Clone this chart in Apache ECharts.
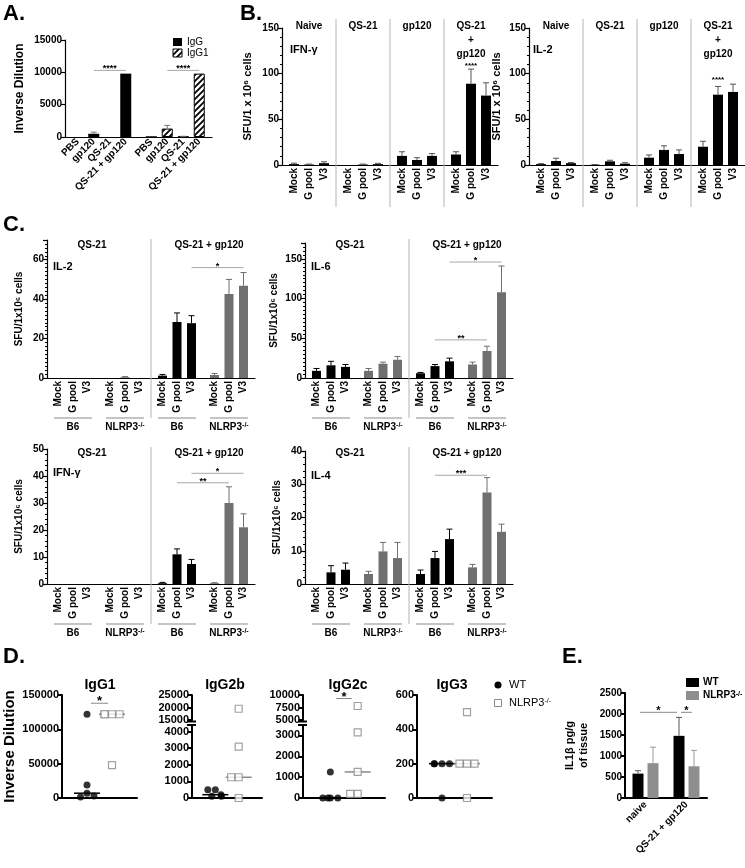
<!DOCTYPE html>
<html><head><meta charset="utf-8">
<script src="https://cdn.jsdelivr.net/npm/echarts@6.0.0/dist/echarts.min.js"></script>
<style>html,body{margin:0;padding:0;background:#fff}#c{width:745px;height:868px}</style>
</head><body><div id="c"></div>
<script>
// ================= DATA =================
// Panel A
const aGroups = ['IgG', 'IgG1'];
const aTreatments = ['PBS', 'gp120', 'QS-21', 'QS-21 + gp120'];
const aIgG = [0, 500, 0, 9800];
const aIgGSd = [0, 250, 0, 0];
const aIgG1 = [0, 1300, 50, 9800];
const aIgG1Sd = [0, 500, 60, 0];
const aSig = [[0, 1, 0, 3, 10300, '****'], [1, 1, 1, 3, 10300, '****']];

// Panel B
const bGroups = ['Naive', 'QS-21', 'gp120', 'QS-21\n+\ngp120'];
const stims = ['Mock', 'G pool', 'V3'];
const bIfn = [[1, 0.5, 2], [0, 0.5, 1], [10, 5.5, 10], [11.5, 89, 76]];
const bIfnSd = [[1, 0.5, 1.5], [0, 0.5, 0.8], [4.5, 2.5, 2.5], [3, 16, 14]];
const bIl2 = [[1, 4.4, 2], [0.3, 4, 1.5], [8, 16.5, 12], [20, 77, 80]];
const bIl2Sd = [[0.5, 3, 0.7], [0.2, 1.2, 1], [3, 4.5, 4.5], [6, 9, 8.5]];
const bIfnSig = [[3, 1, 3, 1, 108, '****']];
const bIl2Sig = [[3, 1, 3, 1, 92, '****']];

// Panel C
const cGroups = ['B6', 'NLRP3-/-', 'B6', 'NLRP3-/-'];
const cTreat = ['QS-21', 'QS-21 + gp120'];
const cIl2 = [[0, 0, 0], [0, 0.4, 0], [1.2, 28.4, 27.8], [1.5, 42.6, 46.8]];
const cIl2Sd = [[0, 0, 0], [0, 0.3, 0], [0.6, 4.6, 3.8], [0.8, 7.4, 6.7]];
const cIl6 = [[9, 16, 14], [9, 18, 23], [6, 15, 21], [17, 34, 108]];
const cIl6Sd = [[3, 5, 3], [3, 2, 4], [1, 2, 4], [3, 6, 33]];
const cIfn = [[0, 0, 0], [0, 0, 0], [0.3, 11, 7.4], [0.3, 30, 21]];
const cIfnSd = [[0, 0, 0], [0, 0, 0], [0.3, 2, 1.7], [0.2, 6, 5]];
const cIl4 = [[0, 3.5, 4.3], [3, 9.8, 7.8], [3, 7.8, 13.5], [5, 27.5, 15.7]];
const cIl4Sd = [[0, 2, 2], [0.8, 2.7, 4.7], [1.2, 2, 3], [0.9, 4.5, 2.3]];
const cIl2Sig = [[2, 2, 3, 2, 56, '*']];
const cIl6Sig = [[2, 2, 3, 2, 146, '*'], [2, 1, 3, 1, 48, '**']];
const cIfnSig = [[2, 2, 3, 2, 41, '*'], [2, 1, 3, 1, 37.5, '**']];
const cIl4Sig = [[2, 1, 3, 1, 32.7, '***']];

// Panel D
const dTitles = ['IgG1', 'IgG2b', 'IgG2c', 'IgG3'];
const dIgG1WT = [122000, 19000, 7000, 1500, 3000];
const dIgG1KO = [122000, 122000, 122000, 122000, 48000];
const dIgG2bWT = [500, 100, 200, 100, 500];
const dIgG2bKO = [19500, 3100, 1250, 1250, 0];
const dIgG2cWT = [1250, 0, 0, 0, 0];
const dIgG2cKO = [7800, 3150, 1250, 200, 200];
const dIgG3WT = [200, 200, 200, 200, 0];
const dIgG3KO = [500, 200, 200, 200, 0];

// Panel E
const eGroups = ['naive', 'QS-21 + gp120'];
const eWT = [580, 1480];
const eWTSd = [70, 440];
const eKO = [830, 755];
const eKOSd = [380, 380];
const eSig = [[0, 0, 1, 0, 2040, '*'], [1, 0, 1, 1, 2040, '*']];

// ================= STYLE / HELPERS =================
const FONT = '"Liberation Sans", Arial, Helvetica, sans-serif';
const BLK = '#000000', KO_C = '#6f6f6f', KO_E = '#8e8e8e', SEP = '#b4b4b4', SIGC = '#a8a8a8';

function hatchCanvas() {
  const c = document.createElement('canvas'); c.width = 6; c.height = 6;
  const x = c.getContext('2d');
  x.fillStyle = '#fff'; x.fillRect(0, 0, 6, 6);
  x.strokeStyle = '#000'; x.lineWidth = 1.8;
  x.beginPath();
  x.moveTo(0, 6); x.lineTo(6, 0);
  x.moveTo(-3, 3); x.lineTo(3, -3);
  x.moveTo(3, 9); x.lineTo(9, 3);
  x.stroke();
  return c;
}
const HATCH = { image: hatchCanvas(), repeat: 'repeat' };

const grids = [], xAxes = [], yAxes = [], series = [];
function addGrid(l, t, w, h, xa, ya) {
  const i = grids.length;
  grids.push({ left: l, top: t, width: w, height: h, outerBoundsMode: 'none', containLabel: false });
  xAxes.push(Object.assign({ gridIndex: i }, xa));
  yAxes.push(Object.assign({ gridIndex: i }, ya));
  return i;
}
function txt(size, weight) { return { color: '#000', fontFamily: FONT, fontWeight: weight || 'bold', fontSize: size }; }
function yAx(max, interval, o) {
  o = o || {};
  const lw = o.lw || 1.2;
  return {
    type: 'value', min: o.min || 0, max: max, interval: interval,
    name: o.name || '', nameLocation: 'middle', nameGap: o.nameGap || 30,
    nameTextStyle: Object.assign(txt(o.nfs || 10), { lineHeight: o.nlh || 14 }),
    axisLine: { show: true, onZero: false, lineStyle: { color: '#000', width: lw } },
    axisTick: { show: true, length: 4, lineStyle: { color: '#000', width: lw } },
    minorTick: { show: !!o.minor, splitNumber: o.minor || 5, length: 2, lineStyle: { color: '#000', width: 1 } },
    splitLine: { show: false }, minorSplitLine: { show: false },
    axisLabel: Object.assign(txt(o.fs || 10), {
      margin: 3,
      formatter: function (v) { return Math.abs(v / interval - Math.round(v / interval)) < 1e-6 ? String(v) : ''; }
    })
  };
}
function xCat(data, o) {
  o = o || {};
  const a = {
    type: 'category', data: data, boundaryGap: o.bg === undefined ? true : o.bg,
    axisLine: { show: o.noLine ? false : true, onZero: false, lineStyle: { color: '#000', width: o.lw || 1.2 } },
    axisTick: { show: false }, splitLine: { show: false },
    axisLabel: o.label || { show: false }
  };
  if (o.jitter) { a.jitter = o.jitter; a.jitterOverlap = false; a.jitterMargin = 0.5; }
  return a;
}
function barPanel(gi, subs, vals, sds, colorOf, o) {
  const gapPct = (o.step - o.bw) / o.bw * 100;
  subs.forEach(function (nm, k) {
    series.push({
      type: 'bar', name: nm, xAxisIndex: gi, yAxisIndex: gi,
      barWidth: o.bw, barGap: gapPct + '%', animation: false, silent: true,
      data: vals.map(function (row, g) {
        const st = { color: colorOf(g, k) };
        if (o.border && o.border(g, k)) { st.borderColor = '#000'; st.borderWidth = 1; }
        return { value: row[k], itemStyle: st };
      }),
      label: o.label ? Object.assign({ show: true, formatter: nm }, o.label) : { show: false }
    });
  });
  const ed = [];
  vals.forEach(function (row, g) { row.forEach(function (v, k) { if (sds[g][k] > 0) ed.push([g, v, sds[g][k], k]); }); });
  const n = subs.length;
  series.push({
    type: 'custom', xAxisIndex: gi, yAxisIndex: gi, z: 4, silent: true, animation: false,
    encode: { x: 0, y: 1 }, data: ed,
    renderItem: function (p, api) {
      const g = api.value(0), v = api.value(1), sd = api.value(2), k = api.value(3);
      const b = api.coord([g, v]), t = api.coord([g, v + sd]);
      const x = b[0] + (k - (n - 1) / 2) * o.step;
      const c = o.errColor ? o.errColor(g, k) : colorOf(g, k);
      const cw = o.cap / 2;
      return { type: 'group', children: [
        { type: 'line', shape: { x1: x, y1: b[1], x2: x, y2: t[1] }, style: { stroke: c, lineWidth: 1 } },
        { type: 'line', shape: { x1: x - cw, y1: t[1], x2: x + cw, y2: t[1] }, style: { stroke: c, lineWidth: 1 } }
      ] };
    }
  });
}
function sigPanel(gi, sigs, n, step, o) {
  o = o || {};
  series.push({
    type: 'custom', xAxisIndex: gi, yAxisIndex: gi, z: 5, silent: true, animation: false,
    encode: { x: 0, y: 1 },
    data: sigs.map(function (s) { return [s[0], s[4]]; }),
    renderItem: function (p, api) {
      const s = sigs[p.dataIndex];
      const a = api.coord([s[0], s[4]]), b = api.coord([s[2], s[4]]);
      let x1 = a[0] + (s[1] - (n - 1) / 2) * step, x2 = b[0] + (s[3] - (n - 1) / 2) * step;
      const inset = o.inset || 0;
      const ch = [];
      if (x2 - x1 > 1) {
        x1 += inset; x2 -= inset;
        ch.push({ type: 'line', shape: { x1: x1, y1: a[1], x2: x2, y2: a[1] }, style: { stroke: o.color || SIGC, lineWidth: 1 } });
      }
      ch.push({ type: 'text', style: { text: s[5], x: (x1 + x2) / 2, y: a[1] + (o.dy || 3), align: 'center', verticalAlign: 'bottom',
        font: 'bold ' + (o.fs || 9) + 'px ' + FONT, fill: '#000' } });
      return { type: 'group', children: ch };
    }
  });
}
function median(arr) {
  const s = arr.slice().sort(function (a, b) { return a - b; });
  const m = Math.floor(s.length / 2);
  return s.length % 2 ? s[m] : (s[m - 1] + s[m]) / 2;
}
function dotPanel(l, t, w, h, ax, wt, ko, keep, medMax, noXLine) {
  const gi = addGrid(l, t, w, h, xCat(['', 'WT', 'NLRP3-/-', ' '], { bg: false, lw: 2, jitter: 40, noLine: noXLine }), ax);
  series.push({ type: 'scatter', xAxisIndex: gi, yAxisIndex: gi, symbol: 'circle', symbolSize: 7, animation: false, silent: true, z: 3,
    itemStyle: { color: '#000' }, data: wt.filter(keep).map(function (v) { return [1, v]; }) });
  series.push({ type: 'scatter', xAxisIndex: gi, yAxisIndex: gi, symbol: 'rect', symbolSize: 7, animation: false, silent: true, z: 3,
    itemStyle: { color: '#fff', borderColor: '#8a8a8a', borderWidth: 1.2 }, data: ko.filter(keep).map(function (v) { return [2, v]; }) });
  if (medMax) {
    const md = [[1, median(wt)], [2, median(ko)]].filter(function (d) { return d[1] <= medMax; });
    series.push({ type: 'custom', xAxisIndex: gi, yAxisIndex: gi, z: 2, silent: true, animation: false,
      encode: { x: 0, y: 1 }, data: md,
      renderItem: function (p, api) {
        const c = api.coord([api.value(0), api.value(1)]);
        return { type: 'line', shape: { x1: c[0] - 13, y1: c[1], x2: c[0] + 13, y2: c[1] },
          style: { stroke: api.value(0) === 1 ? '#000' : '#8a8a8a', lineWidth: 1.5 } };
      } });
  }
  return gi;
}

// ================= PANEL A =================
const aGi = addGrid(65, 40, 147, 97, xCat(aGroups),
  yAx(15000, 5000, { name: 'Inverse Dilution', nameGap: 38, nfs: 12, fs: 10 }));
barPanel(aGi, aTreatments, [aIgG, aIgG1], [aIgGSd, aIgG1Sd], function (g) { return g ? HATCH : BLK; },
  { bw: 11, step: 16, cap: 6, border: function (g) { return g === 1; }, errColor: function () { return '#777'; },
    label: Object.assign(txt(10), { position: 'bottom', rotate: 45, align: 'right', verticalAlign: 'middle', distance: 3 }) });
sigPanel(aGi, aSig, 4, 16, { fs: 9 });

// ================= PANEL B =================
const vLabel = Object.assign(txt(10), { position: 'bottom', rotate: 90, align: 'right', verticalAlign: 'middle', distance: 3 });
const bIfnGi = addGrid(282, 28, 216, 137, xCat(bGroups),
  yAx(150, 50, { minor: 5, name: 'SFU/1 x 10⁶ cells', nameGap: 27, nfs: 11 }));
barPanel(bIfnGi, stims, bIfn, bIfnSd, function () { return BLK; }, { bw: 10, step: 15, cap: 6, errColor: function () { return '#555'; }, label: vLabel });
sigPanel(bIfnGi, bIfnSig, 3, 15, { fs: 8 });
const bIl2Gi = addGrid(529, 28, 216, 137, xCat(bGroups),
  yAx(150, 50, { minor: 5, name: 'SFU/1 x 10⁶ cells', nameGap: 25, nfs: 11 }));
barPanel(bIl2Gi, stims, bIl2, bIl2Sd, function () { return BLK; }, { bw: 10, step: 15, cap: 6, errColor: function () { return '#555'; }, label: vLabel });
sigPanel(bIl2Gi, bIl2Sig, 3, 15, { fs: 8 });

// ================= PANEL C =================
const cColor = function (g) { return g % 2 ? KO_C : BLK; };
function cPanel(l, t, h, max, interval, minor, vals, sds, sigs, nameGap) {
  const gi = addGrid(l, t, 208, h, xCat(cGroups),
    yAx(max, interval, { minor: minor, name: 'SFU/1x10⁶ cells', nameGap: nameGap, nfs: 10, fs: 10 }));
  barPanel(gi, stims, vals, sds, cColor, { bw: 9, step: 14.5, cap: 6, label: vLabel });
  sigPanel(gi, sigs, 3, 14.5, { fs: 9 });
  return gi;
}
const cIl2Gi = cPanel(47, 240, 138, 70, 20, 10, cIl2, cIl2Sd, cIl2Sig, 21);
const cIl6Gi = cPanel(305, 243, 135, 170, 50, 10, cIl6, cIl6Sd, cIl6Sig, 24);
const cIfnGi = cPanel(47, 449, 135, 50, 10, 5, cIfn, cIfnSd, cIfnSig, 21);
const cIl4Gi = cPanel(305, 451, 133, 40, 10, 5, cIl4, cIl4Sd, cIl4Sig, 21);

// ================= PANEL D =================
const dAx = function (max, interval, o) { return yAx(max, interval, Object.assign({ fs: 11, lw: 2 }, o || {})); };
const all = function () { return true; };
const d1 = dotPanel(62, 695, 75, 103, dAx(150000, 50000, { name: 'Inverse Dilution', nameGap: 45, nfs: 15 }), dIgG1WT, dIgG1KO, all, 1e9);
const d2u = dotPanel(192, 695, 70, 25, dAx(25000, 5000, { min: 15000 }), dIgG2bWT, dIgG2bKO, function (v) { return v >= 15000; }, 0, true);
const d2l = dotPanel(192, 725, 70, 73, dAx(4400, 1000), dIgG2bWT, dIgG2bKO, function (v) { return v <= 4400; }, 4400);
const d3u = dotPanel(303, 695, 82, 25, dAx(10000, 2500, { min: 5000 }), dIgG2cWT, dIgG2cKO, function (v) { return v >= 5000; }, 0, true);
const d3l = dotPanel(303, 725, 82, 73, dAx(3500, 1000), dIgG2cWT, dIgG2cKO, function (v) { return v <= 3500; }, 3500);
const d4 = dotPanel(417, 695, 75, 103, dAx(600, 200), dIgG3WT, dIgG3KO, all, 1e9);
sigPanel(d1, [[1, 0, 2, 0, 138000, '*']], 1, 0, { inset: 4, fs: 13, color: '#888', dy: 5 });
sigPanel(d3u, [[1, 0, 2, 0, 9300, '*']], 1, 0, { inset: 6, fs: 13, color: '#888', dy: 5 });

// ================= PANEL E =================
const eGi = addGrid(625, 693, 82, 105,
  xCat(eGroups, { lw: 2, label: Object.assign(txt(10), { show: true, rotate: 45, margin: 5, interval: 0 }) }),
  yAx(2500, 500, { lw: 2, fs: 10, name: 'IL1β pg/g\nof tissue', nameGap: 34, nfs: 11, nlh: 14 }));
barPanel(eGi, ['WT', 'NLRP3-/-'], eGroups.map(function (g, i) { return [eWT[i], eKO[i]]; }),
  eGroups.map(function (g, i) { return [eWTSd[i], eKOSd[i]]; }),
  function (g, k) { return k ? KO_E : BLK; }, { bw: 11, step: 15, cap: 6, errColor: function (g, k) { return k ? '#999' : '#555'; } });
sigPanel(eGi, eSig, 2, 15, { inset: 2, fs: 11, color: '#888', dy: 4 });

// ================= RENDER =================
const chart = echarts.init(document.getElementById('c'), null, { renderer: 'canvas', width: 745, height: 868 });
chart.setOption({ animation: false, grid: grids, xAxis: xAxes, yAxis: yAxes, series: series });

const G = [];
const SUP = { s: { fontSize: 7, fontWeight: 'bold', fontFamily: FONT, fill: '#000', verticalAlign: 'top', lineHeight: 8 } };
const SUPN = { s: { fontSize: 7, fontWeight: 'normal', fontFamily: FONT, fill: '#000', verticalAlign: 'top', lineHeight: 8 } };
function px(gi, c) { return chart.convertToPixel({ xAxisIndex: gi }, c); }
function addText(x, y, s, size, o) {
  o = o || {};
  const st = { text: s, font: (o.weight || 'bold') + ' ' + size + 'px ' + FONT, fill: '#000',
    align: o.align || 'center', verticalAlign: o.va || 'middle' };
  if (o.lh) st.lineHeight = o.lh;
  if (o.rich) st.rich = o.rich;
  G.push({ type: 'text', x: x, y: y, rotation: o.rot || 0, silent: true, z: 10, style: st });
}
function addLine(x1, y1, x2, y2, c, w) {
  G.push({ type: 'line', silent: true, z: 10, shape: { x1: x1, y1: y1, x2: x2, y2: y2 }, style: { stroke: c, lineWidth: w || 1 } });
}
function addRect(x, y, w, h, fill, stroke) {
  const st = { fill: fill };
  if (stroke) { st.stroke = stroke; st.lineWidth = 1; }
  G.push({ type: 'rect', silent: true, z: 10, shape: { x: x, y: y, width: w, height: h }, style: st });
}

// Panel letters
addText(3, 3, 'A.', 22, { align: 'left', va: 'top' });
addText(240, 3, 'B.', 22, { align: 'left', va: 'top' });
addText(3, 214, 'C.', 22, { align: 'left', va: 'top' });
addText(3, 646, 'D.', 22, { align: 'left', va: 'top' });
addText(562, 646, 'E.', 22, { align: 'left', va: 'top' });

// A legend
addRect(173, 38, 9, 8, '#000');
addRect(173, 49, 9, 8, HATCH, '#000');
addText(187, 42, aGroups[0], 10, { align: 'left', weight: 'normal' });
addText(187, 53, aGroups[1], 10, { align: 'left', weight: 'normal' });

// B headers & separators
[[bIfnGi, 'IFN-γ', 290], [bIl2Gi, 'IL-2', 533]].forEach(function (d) {
  const gi = d[0];
  bGroups.forEach(function (name, g) { addText(px(gi, g), 19, name, 10, { va: 'top', lh: 14 }); });
  for (let g = 0; g < bGroups.length - 1; g++) {
    const x = (px(gi, g) + px(gi, g + 1)) / 2;
    addLine(x, 19, x, 207, SEP, 1);
  }
  addText(d[2], 50, d[1], 11, { align: 'left' });
});

// C headers, separators, group labels
[[cIl2Gi, 'IL-2', 245, 267, 418], [cIl6Gi, 'IL-6', 245, 267, 418],
 [cIfnGi, 'IFN-γ', 453, 473, 624], [cIl4Gi, 'IL-4', 453, 476, 624]].forEach(function (d) {
  const gi = d[0], hy = d[2], ly = d[3], uy = d[4];
  const left = grids[gi].left;
  addText(left + 45, hy, cTreat[0], 10);
  addText(left + 162, hy, cTreat[1], 10);
  addText(left + 6, ly, d[1], 11, { align: 'left' });
  const sx = (px(gi, 1) + px(gi, 2)) / 2;
  addLine(sx, hy - 6, sx, uy, SEP, 1);
  cGroups.forEach(function (name, g) {
    const cx = px(gi, g);
    addLine(cx - 19, uy, cx + 19, uy, '#8c8c8c', 1.2);
    addText(cx, uy + 9, name === 'NLRP3-/-' ? 'NLRP3{s|-/-}' : name, 10, { rich: SUP });
  });
});

// D titles, legend, break marks
[[100, dTitles[0]], [225, dTitles[1]], [348, dTitles[2]], [452, dTitles[3]]].forEach(function (d) {
  addText(d[0], 685, d[1], 14);
});
G.push({ type: 'circle', silent: true, z: 10, shape: { cx: 498, cy: 685, r: 3.5 }, style: { fill: '#000' } });
addRect(494.5, 699.5, 7, 7, '#fff', '#8a8a8a');
addText(509, 685, 'WT', 11, { align: 'left', weight: 'normal' });
addText(509, 703, 'NLRP3{s|-/-}', 11, { align: 'left', weight: 'normal', rich: SUPN });
[192, 303].forEach(function (x) {
  addLine(x - 5, 721.5, x + 4, 721.5, '#000', 2);
  addLine(x - 5, 725, x + 4, 725, '#000', 2);
});

// E legend
addRect(686, 678, 13, 9, '#000');
addRect(686, 691, 13, 9, KO_E);
addText(703, 682.5, 'WT', 10, { align: 'left' });
addText(703, 695.5, 'NLRP3{s|-/-}', 10, { align: 'left', rich: SUP });

chart.setOption({ graphic: { elements: G } });
</script></body></html>
